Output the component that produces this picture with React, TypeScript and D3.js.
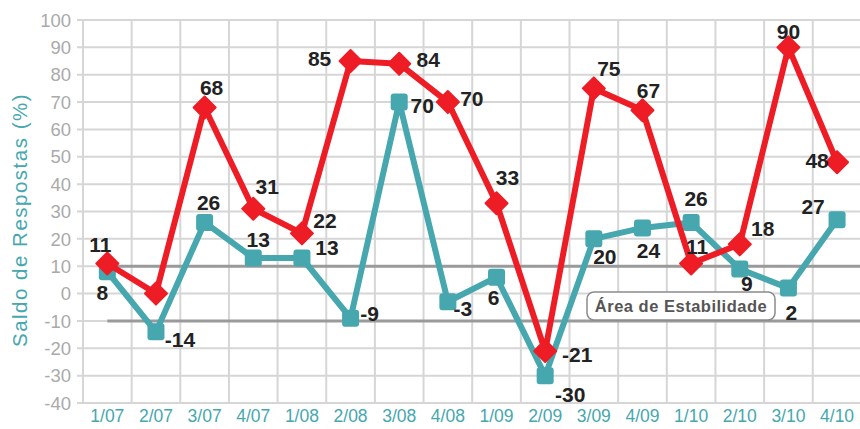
import React from 'react';
import * as d3 from 'd3';

const categories = ['1/07', '2/07', '3/07', '4/07', '1/08', '2/08', '3/08', '4/08', '1/09', '2/09', '3/09', '4/09', '1/10', '2/10', '3/10', '4/10'];
const redValues = [11, 0, 68, 31, 22, 85, 84, 70, 33, -21, 75, 67, 11, 18, 90, 48];
const tealValues = [8, -14, 26, 13, 13, -9, 70, -3, 6, -30, 20, 24, 26, 9, 2, 27];
const yTicks = d3.range(-40, 101, 10);
const stabilityLimits = [-10, 10];
const yTitle = 'Saldo de Respostas (%)';
const annotationText = 'Área de Estabilidade';

// label placement offsets (dx, dy) relative to each marker; null = hidden
const redLabelOffsets: ([number, number] | null)[] = [
  [-7, -19], null, [7, -20], [14, -22], [23, -13], [-31, -3], [29, -4], [24, -4],
  [11, -26], [32, 3], [15, -20], [6, -20], [6, -17], [23, -16], [0, -16], [-20, -2],
];
const tealLabelOffsets: ([number, number] | null)[] = [
  [-5, 21], [24, 8], [4, -20], [5, -19], [25, -11], [19, -5], [23, 3], [15, 7],
  [-3, 20], [25, 19], [11, 18], [6, 23], [5, -24], [7, 14], [3, 24], [-24, -13],
];

const W = 860;
const H = 429;
const RED = '#ee1c25';
const TEAL = '#46a7af';

export default function App() {
  const x = d3.scaleBand<string>().domain(categories).range([83, 861.4]);
  const bw = x.bandwidth();
  const xc = (c: string) => (x(c) as number) + bw / 2;
  const y = d3.scaleLinear().domain([-40, 100]).range([403, 20]);

  const line = d3
    .line<number>()
    .x((_, i) => xc(categories[i]))
    .y((d) => y(d));

  const boundaries = d3.range(0, categories.length + 1).map((i) => 83 + i * bw);

  const diamond = (cx: number, cy: number, r: number) =>
    `M${cx},${cy - r} L${cx + r},${cy} L${cx},${cy + r} L${cx - r},${cy} Z`;

  const labelStyle: React.CSSProperties = {
    fontFamily: '"Liberation Sans", Arial, sans-serif',
    fontWeight: 700,
    fontSize: 21,
    fill: '#222',
  };

  return (
    <svg width={W} height={H} style={{ position: 'absolute', left: 0, top: 0, background: '#fff' }}>
      {/* grid */}
      <g>
        {yTicks.map((t) => (
          <line key={'h' + t} x1={77} x2={W} y1={y(t)} y2={y(t)} stroke="#d6d6d6" strokeWidth={2} />
        ))}
        {boundaries.map((bx, i) => (
          <line key={'v' + i} x1={bx} x2={bx} y1={y(100)} y2={y(-40)} stroke="#d6d6d6" strokeWidth={2} />
        ))}
      </g>
      {/* stability lines */}
      {stabilityLimits.map((v) => (
        <line key={'s' + v} x1={xc(categories[0])} x2={W} y1={y(v)} y2={y(v)} stroke="#9a9a9a" strokeWidth={3} />
      ))}
      {/* y tick labels */}
      {yTicks.map((t) => (
        <text
          key={'yt' + t}
          x={71}
          y={y(t)}
          dy="0.36em"
          textAnchor="end"
          style={{ fontFamily: '"Liberation Sans", Arial, sans-serif', fontSize: 18.5, fill: '#aaaaaa' }}
        >
          {t}
        </text>
      ))}
      {/* x labels */}
      {categories.map((c) => (
        <text
          key={'xl' + c}
          x={xc(c)}
          y={416}
          dy="0.36em"
          textAnchor="middle"
          style={{ fontFamily: '"Liberation Sans", Arial, sans-serif', fontSize: 17.5, fill: TEAL }}
        >
          {c}
        </text>
      ))}
      {/* y title */}
      <text
        transform={`translate(27,${220}) rotate(-90)`}
        textAnchor="middle"
        style={{ fontFamily: '"Liberation Sans", Arial, sans-serif', fontSize: 20.5, fill: TEAL, letterSpacing: 1.5 }}
      >
        {yTitle}
      </text>
      {/* annotation */}
      <g>
        <rect x={587} y={292} width={188} height={28} rx={7} ry={7} fill="#fff" stroke="#8a8a8a" strokeWidth={1.5} />
        <text
          x={681}
          y={306}
          dy="0.36em"
          textAnchor="middle"
          style={{ fontFamily: '"Liberation Sans", Arial, sans-serif', fontWeight: 700, fontSize: 16.5, fill: '#555', letterSpacing: 0.5 }}
        >
          {annotationText}
        </text>
      </g>
      {/* teal series */}
      <path d={line(tealValues) || ''} fill="none" stroke={TEAL} strokeWidth={6} strokeLinejoin="round" />
      {tealValues.map((v, i) => (
        <rect
          key={'tm' + i}
          x={xc(categories[i]) - 8.5}
          y={y(v) - 8.5}
          width={17}
          height={17}
          rx={3}
          fill={TEAL}
        />
      ))}
      {/* red series */}
      <path d={line(redValues) || ''} fill="none" stroke={RED} strokeWidth={6} strokeLinejoin="round" />
      {redValues.map((v, i) => (
        <path
          key={'rm' + i}
          d={diamond(xc(categories[i]), y(v), 11)}
          fill={RED}
          stroke={RED}
          strokeWidth={2}
          strokeLinejoin="round"
        />
      ))}
      {/* labels */}
      {tealValues.map((v, i) => {
        const o = tealLabelOffsets[i];
        if (!o) return null;
        return (
          <text key={'tl' + i} x={xc(categories[i]) + o[0]} y={y(v) + o[1]} dy="0.36em" textAnchor="middle" style={labelStyle}>
            {v}
          </text>
        );
      })}
      {redValues.map((v, i) => {
        const o = redLabelOffsets[i];
        if (!o) return null;
        return (
          <text key={'rl' + i} x={xc(categories[i]) + o[0]} y={y(v) + o[1]} dy="0.36em" textAnchor="middle" style={labelStyle}>
            {v}
          </text>
        );
      })}
    </svg>
  );
}
